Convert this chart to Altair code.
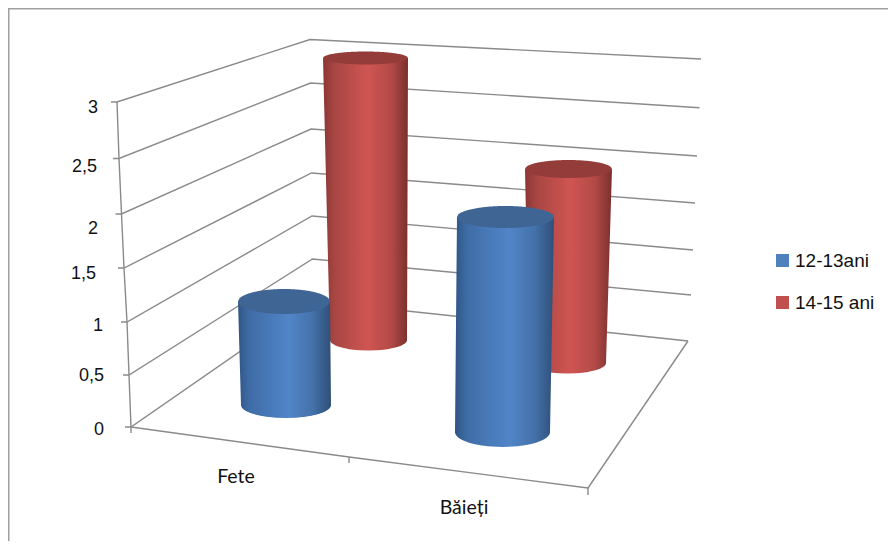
import altair as alt
import numpy as np
import pandas as pd

# ---- chart values ----
categories = ["Fete", "Băieți"]
series = ["12-13ani", "14-15 ani"]
values_12_13 = [1, 2]
values_14_15 = [3, 2]
tick_values = [0, 0.5, 1, 1.5, 2, 2.5, 3]
tick_labels = ["0", "0,5", "1", "1,5", "2", "2,5", "3"]
series_colors = ["#4f81bd", "#c0504d"]

# ---- 3D view calibration: screen position of the chart box edges, per tick ----
left_x = [131, 129, 127, 124, 121.5, 119, 117]
left_y = [427, 375, 322, 268, 214, 158.5, 102]
back_x = [313, 312.5, 312, 311.5, 311, 310.5, 310]
back_y = [301, 259, 216, 173, 129, 83, 39.5]
right_x = [688, 691, 693, 695, 697, 699.5, 701]
right_y = [341, 295, 250, 203, 156, 107.7, 59]
label_right = [104, 104, 103, 96, 98, 97, 98]
front_corner = (588, 488)
mid_floor = (349, 457)

SX = alt.Scale(domain=[8, 888], range=[0, 880], nice=False, zero=False)
SY = alt.Scale(domain=[541, 8], nice=False, zero=False)
X = alt.X("x:Q", scale=SX, axis=None)
Y = alt.Y("y:Q", scale=SY, axis=None)
X2 = alt.X2("x2:Q")
Y2 = alt.Y2("y2:Q")

# ---- wall / floor lines ----
rows = []
def add(name, pts):
    for i, (a, b) in enumerate(pts):
        rows.append(dict(g=name, x=a, y=b, o=i))

for i in range(len(tick_values)):
    add(f"wall{i}", [(left_x[i] - 6, left_y[i]), (left_x[i], left_y[i]),
                     (back_x[i], back_y[i]), (right_x[i], right_y[i])])
add("axis", list(zip(left_x, left_y)))
add("front", [(left_x[0], left_y[0]), mid_floor, front_corner])
add("side", [front_corner, (right_x[0], right_y[0])])
add("t0", [(left_x[0], left_y[0]), (left_x[0], left_y[0] + 6)])
add("t1", [mid_floor, (mid_floor[0], mid_floor[1] + 6)])
add("t2", [front_corner, (front_corner[0], front_corner[1] + 7)])
lines = (alt.Chart(pd.DataFrame(rows))
         .mark_line(color="#8a8a8a", strokeWidth=1.4, clip=False)
         .encode(x=X, y=Y, detail="g:N", order="o:Q"))

frame_df = pd.DataFrame([dict(x=8.5, y=541, o=0), dict(x=8.5, y=8.5, o=1), dict(x=888, y=8.5, o=2)])
frame = (alt.Chart(frame_df).mark_line(color="#a0a0a0", strokeWidth=2, clip=False)
         .encode(x=X, y=Y, order="o:Q"))

# ---- cylinders ----
def grad(stops):
    return alt.Gradient(gradient="linear", x1=0, x2=1, y1=0, y2=0,
                        stops=[alt.GradientStop(offset=o, color=c) for o, c in stops])

BLUE = grad([(0, "#2f5585"), (0.12, "#3f6ca6"), (0.55, "#5185c8"), (0.8, "#4472aa"), (1, "#2f4f78")])
RED = grad([(0, "#8a3735"), (0.14, "#a94643"), (0.52, "#cf5552"), (0.8, "#b34a47"), (1, "#7a2f2e")])
BLUE_TOP, RED_TOP = "#3f6595", "#933c3a"

# placement of each column in the view: base centre line, left/right at top and base, radii, px per unit
place = {
    ("Fete", 1):   dict(base=340, unit=94.0, tl=323, tr=408, bl=330, br=407, rt=6.5, rb=10.5),
    ("Băieți", 1): dict(base=363, unit=97.0, tl=525, tr=612, bl=529, br=606, rt=9, rb=10.5),
    ("Fete", 0):   dict(base=405, unit=103.5, tl=238, tr=330, bl=241, br=331, rt=12.5, rb=13),
    ("Băieți", 0): dict(base=432, unit=107.5, tl=457, tr=554, bl=455, br=550, rt=11, rb=15),
}
vals = {0: values_12_13, 1: values_14_15}

def cylinder(cat, s):
    p = place[(cat, s)]
    v = vals[s][categories.index(cat)]
    top = p["base"] - v * p["unit"]
    ys = np.linspace(top, p["base"], 40)
    f = (ys - top) / (p["base"] - top)
    b = pd.DataFrame(dict(y=ys, x=p["tl"] + f * (p["bl"] - p["tl"]), x2=p["tr"] + f * (p["br"] - p["tr"])))
    t = np.linspace(0, 1, 40)
    ye = p["base"] + p["rb"] * t
    half = np.sqrt(1 - t ** 2)
    cx, rx = (p["bl"] + p["br"]) / 2, (p["br"] - p["bl"]) / 2
    b2 = pd.DataFrame(dict(y=ye, x=cx - rx * half, x2=cx + rx * half))
    body_df = pd.concat([b, b2], ignore_index=True)
    body = (alt.Chart(body_df)
            .mark_area(orient="horizontal", color=BLUE if s == 0 else RED, clip=False)
            .encode(x=X, x2=X2, y=Y))
    th = np.linspace(-1, 1, 81)
    cxt, rxt = (p["tl"] + p["tr"]) / 2, (p["tr"] - p["tl"]) / 2
    circ = np.sqrt(1 - th ** 2)
    cap_df = pd.DataFrame(dict(x=cxt + rxt * th, y=top - p["rt"] * circ, y2=top + p["rt"] * circ))
    cap = (alt.Chart(cap_df)
           .mark_area(orient="vertical", color=BLUE_TOP if s == 0 else RED_TOP, clip=False)
           .encode(x=X, y=Y, y2=Y2))
    return body + cap

cyls = (cylinder("Fete", 1) + cylinder("Băieți", 1) + cylinder("Fete", 0) + cylinder("Băieți", 0))

# ---- text ----
ticks_df = pd.DataFrame(dict(x=label_right, y=[430, 375.5, 325.5, 273.5, 228.5, 166.5, 108], t=tick_labels))
tick_text = (alt.Chart(ticks_df)
             .mark_text(align="right", baseline="middle", font="Liberation Sans", fontSize=18, color="#111111", clip=False)
             .encode(x=X, y=Y, text="t:N"))
cat_df = pd.DataFrame(dict(x=[236, 464], y=[477, 508], t=categories))
cat_text = (alt.Chart(cat_df)
            .mark_text(align="center", baseline="middle", font="Lato", fontSize=19.5, color="#111111", clip=False)
            .encode(x=X, y=Y, text="t:N"))

# ---- legend ----
leg = (alt.Chart(pd.DataFrame(dict(s=series)))
       .mark_point(filled=True, size=0, opacity=0)
       .encode(x=alt.value(0), y=alt.value(0),
               color=alt.Color("s:N", scale=alt.Scale(domain=series, range=series_colors),
                               legend=alt.Legend(title=None, orient="none", legendX=765, legendY=243,
                                                 symbolType="square", symbolSize=169, symbolOpacity=1,
                                                 symbolStrokeWidth=0,
                                                 labelFont="Liberation Sans", labelFontSize=19,
                                                 labelColor="#111111", rowPadding=22, labelOffset=3,
                                                 labelLimit=200))))

chart = (frame + lines + cyls + tick_text + cat_text + leg).properties(
    width=880, height=533, padding=0,
    autosize=alt.AutoSizeParams(type="none"),
    background="white",
).configure_view(stroke=None)

chart.save("out.html", embed_options={"renderer": "svg", "actions": False})
